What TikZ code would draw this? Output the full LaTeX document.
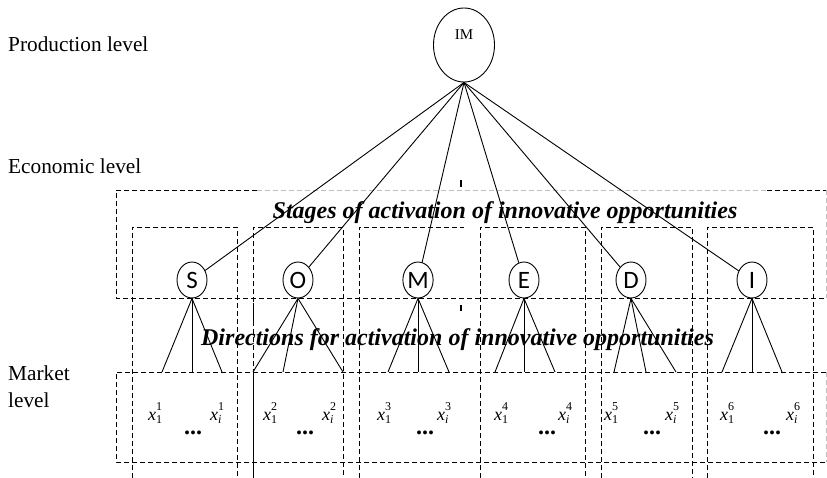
\documentclass[tikz,border=0pt]{standalone}
\usepackage{fontspec}
\setmainfont{Liberation Serif}
\newfontfamily\circfont{Carlito}
\usetikzlibrary{shapes.geometric}

% x with subscript #1 and superscript #2
\newcommand\xv[2]{\textit{x}\makebox[0pt][l]{\raisebox{0.55em}{\fontsize{12}{12}\selectfont #2}}\raisebox{-0.2em}{\fontsize{12}{12}\selectfont #1}}

\begin{document}
\begin{tikzpicture}[x=1pt,y=-1pt,
  dsh/.style={dash pattern=on 5pt off 3pt, line width=0.9pt},
  faint/.style={dsh, black!25},
  conn/.style={line width=0.9pt},
  lvl/.style={font=\fontsize{21.3}{24}\selectfont, anchor=base west, inner sep=0pt},
  topnode/.style={ellipse, draw, line width=0.9pt, minimum width=61pt, minimum height=74pt, inner sep=0pt},
  stagenode/.style={ellipse, draw, fill=white, line width=0.9pt, minimum width=30pt, minimum height=36pt, inner sep=0pt, font=\circfont\fontsize{25}{25}\selectfont},
  head/.style={font=\bfseries\itshape\fontsize{24}{28}\selectfont, anchor=base, inner sep=0pt},
  mk/.style={font=\fontsize{18}{18}\selectfont, anchor=base west, inner sep=0pt},
  dots/.style={font=\bfseries\fontsize{24}{24}\selectfont, anchor=base, inner sep=0pt}]
\useasboundingbox (0,0) rectangle (827,478);

% level captions
\node[lvl] (lprod) at (8,52) {Production level};
\node[lvl] (lecon) at (8,174) {Economic level};
\node[lvl] (lmark1) at (8,380) {Market};
\node[lvl] (lmark2) at (8,407) {level};

% outer frame of the economic level
\draw[dsh] (257,190) -- (116,190) -- (116,298) -- (826,298);
\draw[faint] (257,190) -- (767,190);
\draw[dsh] (767,190) -- (826,190);
\draw[faint] (826,190) -- (826,298);

% market frame
\draw[dsh] (826,372) -- (116,372) -- (116,462) -- (826,462);
\draw[faint] (826,372) -- (826,462);

% frames of the six directions
\foreach \l/\r in {132/237, 253/343, 480/585, 601/692, 707/813}
  \draw[dsh] (\l,478) -- (\l,227) -- (\r,227) -- (\r,478);
\draw[dsh] (359,478) -- (359,227) -- (464,227);
\draw[conn] (253,372) -- (253,478);
\draw[conn] (253,303) -- (253,323);

% small marks
\draw[line width=1.3pt] (461,180) -- (461,187);
\draw[line width=1.3pt] (461,305) -- (461,311);

% top node
\node[topnode, label={[font=\fontsize{15}{15}\selectfont, yshift=10pt]center:IM}] (IM) at (464,45) {};

% stage nodes, their legs and the market variables
\foreach \n/\c/\a/\b/\e/\xa/\xb/\dc/\k in {
    S/192/162/192/222/148/210/193/1,
    O/298/253/283/343/263/322/305/2,
    M/418/388/418/449/377/437/425/3,
    E/524/495/524/555/494/558/547/4,
    D/631/614/646/676/604/665/652/5,
    I/752/722/752/782/720/786/772/6} {
  \node[stagenode] (\n) at (\c,280) {\n};
  \draw[conn] (IM.south) -- (\n);
  \coordinate (\n-l) at (\a,372);
  \coordinate (\n-m) at (\b,372);
  \coordinate (\n-r) at (\e,372);
  \draw[conn] (\n.south) -- (\n-l);
  \draw[conn] (\n.south) -- (\n-m);
  \draw[conn] (\n.south) -- (\n-r);
  \node[mk] (\n-x1) at (\xa,420) {\xv{1}{\k}};
  \node[mk] (\n-xi) at (\xb,420) {\xv{\textit{i}}{\k}};
  \node[dots] (\n-dots) at (\dc,434) {...};
}

% headings
\node[head] (stages) at (505,219) {Stages of activation of innovative opportunities};
\node[head] (dirs) at (457.5,345) {Directions for activation of innovative opportunities};
\end{tikzpicture}
\end{document}
